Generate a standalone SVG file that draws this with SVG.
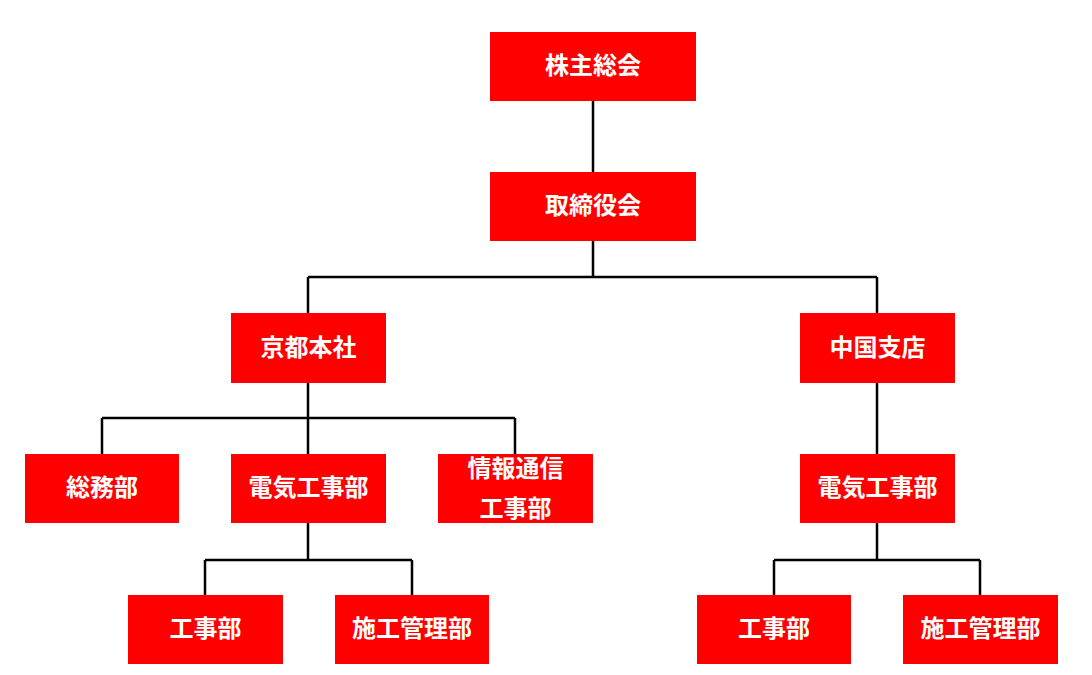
<svg xmlns="http://www.w3.org/2000/svg" width="1092" height="675" viewBox="0 0 1092 675">
<style>
.box{fill:#ff0000}
.t{fill:#ffffff;font-family:"Noto Sans CJK JP","Noto Sans",sans-serif;font-weight:bold;font-size:24px;text-anchor:middle;dominant-baseline:central}
.c{fill:none;stroke:#000000;stroke-width:2.5}
</style>
<rect width="1092" height="675" fill="#ffffff"/>
<g id="connectors">
<path class="c" d="M593 101V172"/>
<path class="c" d="M593 241V277M308 277H877M308 277V313M877 277V313"/>
<path class="c" d="M308 383V418M102 418H515M102 418V454M308 418V454M515 418V454"/>
<path class="c" d="M877 383V454"/>
<path class="c" d="M308 523V560M205 560H412M205 560V595M412 560V595"/>
<path class="c" d="M877 523V560M774 560H980M774 560V595M980 560V595"/>
</g>
<g id="n1"><rect class="box" x="490" y="32" width="206" height="69"/><text class="t" x="593" y="63.5">株主総会</text></g>
<g id="n2"><rect class="box" x="490" y="172" width="206" height="69"/><text class="t" x="593" y="203.5">取締役会</text></g>
<g id="n3"><rect class="box" x="231" y="313" width="155" height="70"/><text class="t" x="308.5" y="345">京都本社</text></g>
<g id="n4"><rect class="box" x="800" y="313" width="155" height="70"/><text class="t" x="877.5" y="345">中国支店</text></g>
<g id="n5"><rect class="box" x="25" y="454" width="154" height="69"/><text class="t" x="102" y="485.5">総務部</text></g>
<g id="n6"><rect class="box" x="231" y="454" width="155" height="69"/><text class="t" x="308.5" y="485.5">電気工事部</text></g>
<g id="n7"><rect class="box" x="438" y="454" width="155" height="69"/><text class="t" x="515.5" y="466">情報通信</text><text class="t" x="515.5" y="506">工事部</text></g>
<g id="n8"><rect class="box" x="800" y="454" width="155" height="69"/><text class="t" x="877.5" y="485.5">電気工事部</text></g>
<g id="n9"><rect class="box" x="128" y="595" width="155" height="69"/><text class="t" x="205.5" y="626.5">工事部</text></g>
<g id="n10"><rect class="box" x="335" y="595" width="154" height="69"/><text class="t" x="412" y="626.5">施工管理部</text></g>
<g id="n11"><rect class="box" x="697" y="595" width="154" height="69"/><text class="t" x="774" y="626.5">工事部</text></g>
<g id="n12"><rect class="box" x="903" y="595" width="155" height="69"/><text class="t" x="980.5" y="626.5">施工管理部</text></g>
</svg>
